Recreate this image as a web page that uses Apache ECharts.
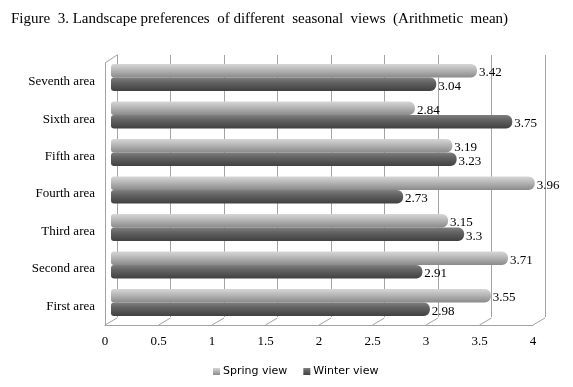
<!DOCTYPE html>
<html>
<head>
<meta charset="utf-8">
<script src="https://cdn.jsdelivr.net/npm/echarts@6/dist/echarts.min.js"></script>
<style>html,body{margin:0;padding:0;background:#fff;}#c{width:573px;height:387px;}</style>
</head>
<body>
<div id="c"></div>
<script>
const categories = ['First area','Second area','Third area','Fourth area','Fifth area','Sixth area','Seventh area'];
const springView = [3.55, 3.71, 3.15, 3.96, 3.19, 2.84, 3.42];
const winterView = [2.98, 2.91, 3.3, 2.73, 3.23, 3.75, 3.04];
const xTicks = [0, 0.5, 1, 1.5, 2, 2.5, 3, 3.5, 4];
const titleText = 'Figure  3. Landscape preferences  of different  seasonal  views  (Arithmetic  mean)';

const chart = echarts.init(document.getElementById('c'), null, {renderer: 'canvas'});
const grey = '#a3a3a3';
const serif = 'Liberation Serif';

function cyl(top, mid, bot) {
  return new echarts.graphic.LinearGradient(0, 0, 0, 1, [
    {offset: 0, color: top}, {offset: 0.35, color: mid}, {offset: 1, color: bot}
  ]);
}

const labelStyle = {show: true, position: 'right', distance: 2, offset: [0, 2],
  fontFamily: serif, fontSize: 13, color: '#000', formatter: p => String(p.value)};

chart.setOption({
  animation: false,
  backgroundColor: '#fff',
  title: {text: titleText, left: 6, top: 7,
    textStyle: {fontFamily: serif, fontSize: 15, fontWeight: 'normal', color: '#000'}},
  legend: {
    data: ['Spring view', 'Winter view'], bottom: 5, left: 208,
    icon: 'rect', itemWidth: 7, itemHeight: 7, itemGap: 16,
    textStyle: {fontFamily: 'DejaVu Sans', fontSize: 11, color: '#000', padding: [0,0,0,-2]}
  },
  grid: [
    {left: 111, width: 428, top: 58.75, bottom: 65.75},
    {left: 105, width: 428, top: 63, bottom: 62},
    {left: 117, width: 428, top: 55, bottom: 70}
  ],
  xAxis: [
    {gridIndex: 0, type: 'value', min: 0, max: 4, interval: 0.5, show: false},
    {gridIndex: 1, type: 'value', min: 0, max: 4, interval: 0.5,
      axisLine: {show: true, lineStyle: {color: grey, width: 1}}, axisTick: {show: false},
      splitLine: {show: false},
      axisLabel: {margin: 10, fontFamily: serif, fontSize: 13, color: '#000'}},
    {gridIndex: 2, type: 'value', min: 0, max: 4, interval: 0.5,
      axisLine: {show: false}, axisTick: {show: false}, axisLabel: {show: false},
      splitLine: {show: true, showMinLine: true, showMaxLine: true, lineStyle: {color: grey, width: 1}}}
  ],
  yAxis: [
    {gridIndex: 0, type: 'category', data: categories, show: false},
    {gridIndex: 1, type: 'category', data: categories,
      axisLine: {show: true, lineStyle: {color: grey, width: 1}}, axisTick: {show: false},
      axisLabel: {margin: 10, fontFamily: serif, fontSize: 13, color: '#000'}},
    {gridIndex: 2, type: 'category', data: categories,
      axisLine: {show: true, lineStyle: {color: grey, width: 1}}, axisTick: {show: false},
      axisLabel: {show: false}, splitLine: {show: false}}
  ],
  series: [
    {name: 'Spring view', type: 'bar', xAxisIndex: 0, yAxisIndex: 0, data: springView,
      barWidth: 13.5, barGap: '0%',
      itemStyle: {color: cyl('#d6d6d6', '#bdbdbd', '#8a8a8a'), borderRadius: [3, 6, 6, 3]},
      label: labelStyle},
    {name: 'Winter view', type: 'bar', xAxisIndex: 0, yAxisIndex: 0, data: winterView,
      barWidth: 13.5, barGap: '0%',
      itemStyle: {color: cyl('#808080', '#646464', '#404040'), borderRadius: [3, 6, 6, 3]},
      label: labelStyle},
    {type: 'custom', xAxisIndex: 1, yAxisIndex: 1, silent: true, z: 1,
      data: xTicks.map(v => [v, 0]),
      renderItem: function (params, api) {
        const cs = params.coordSys;
        const x = api.coord([api.value(0), 0])[0];
        const yb = cs.y + cs.height;
        const children = [{type: 'line', shape: {x1: x, y1: yb, x2: x + 12, y2: yb - 7},
          style: {stroke: grey, lineWidth: 1}}];
        if (params.dataIndex === 0) {
          children.push({type: 'line', shape: {x1: x, y1: cs.y, x2: x + 12, y2: cs.y - 8},
            style: {stroke: grey, lineWidth: 1}});
        }
        return {type: 'group', children: children};
      }}
  ]
});
</script>
</body>
</html>
